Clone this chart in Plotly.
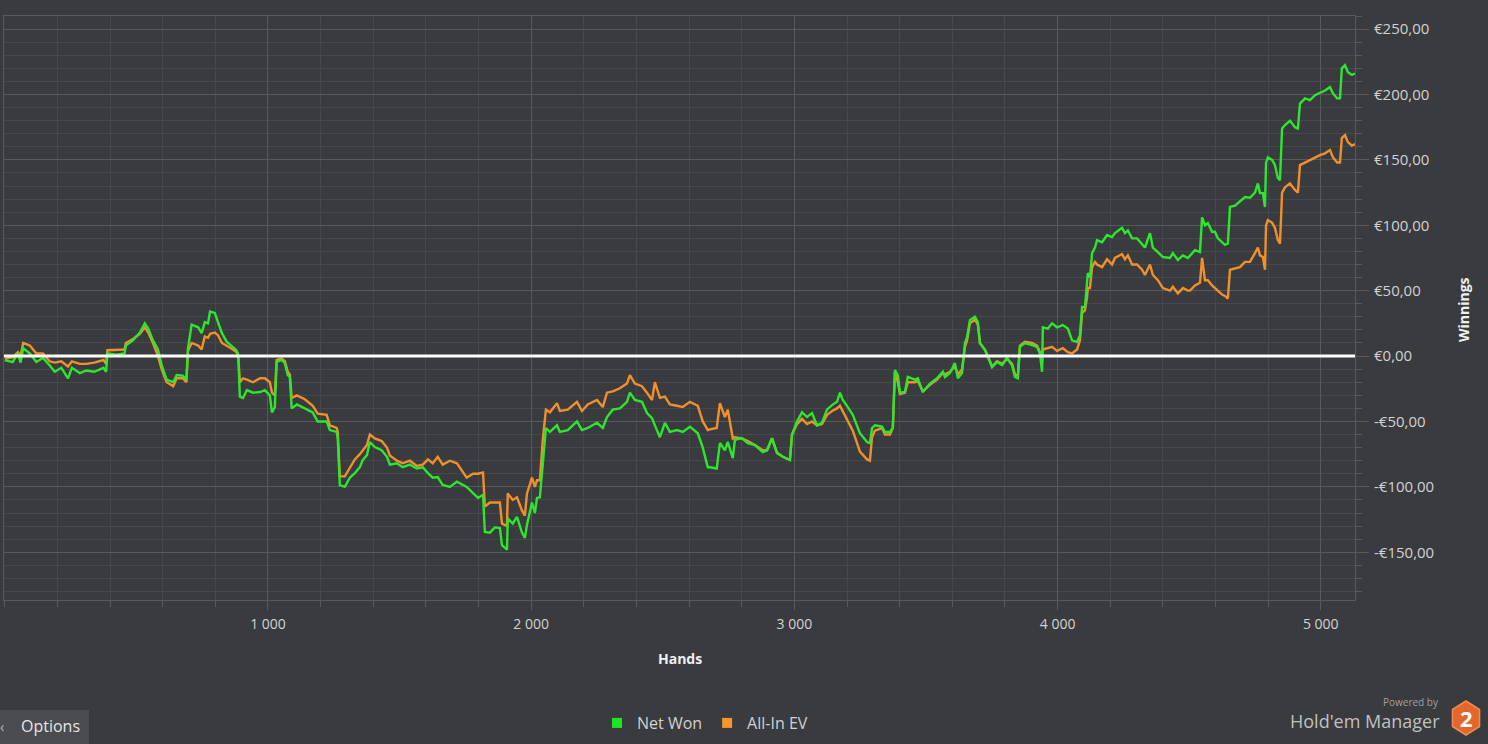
import math
import plotly.graph_objects as go

# ---------------- data ----------------
hands = [0, 30, 50, 60, 70, 95, 120, 145, 170, 190, 215, 240, 255, 285, 310, 340, 375, 385, 390, 425,
         455, 460, 487, 513, 532, 545, 563, 582, 596, 615, 640, 653, 676, 690, 696, 710, 735, 748, 760, 772,
         780, 798, 810, 825, 843, 867, 880, 887, 893, 905, 920, 943, 970, 988, 1007, 1015, 1026, 1033, 1052, 1064,
         1075, 1083, 1090, 1110, 1140, 1170, 1189, 1223, 1235, 1261, 1265, 1273, 1292, 1311, 1330, 1349, 1360, 1376, 1387, 1406,
         1432, 1452, 1463, 1490, 1512, 1539, 1566, 1588, 1608, 1626, 1645, 1664, 1691, 1718, 1755, 1779, 1798, 1817, 1824, 1843,
         1862, 1881, 1889, 1908, 1911, 1930, 1946, 1965, 1976, 1984, 2003, 2014, 2022, 2033, 2044, 2056, 2071, 2098, 2109, 2139,
         2174, 2193, 2215, 2250, 2272, 2288, 2310, 2337, 2364, 2375, 2394, 2421, 2440, 2459, 2470, 2489, 2508, 2527, 2554, 2576,
         2603, 2633, 2652, 2671, 2679, 2705, 2717, 2736, 2747, 2766, 2774, 2800, 2823, 2850, 2880, 2896, 2915, 2934, 2956, 2983,
         2991, 3010, 3029, 3048, 3067, 3086, 3105, 3124, 3143, 3162, 3173, 3184, 3203, 3222, 3249, 3276, 3287, 3295, 3306, 3333,
         3344, 3363, 3374, 3382, 3393, 3401, 3420, 3431, 3458, 3469, 3488, 3515, 3542, 3564, 3572, 3591, 3610, 3621, 3637, 3648,
         3656, 3667, 3686, 3697, 3705, 3724, 3735, 3751, 3770, 3789, 3808, 3827, 3838, 3849, 3857, 3876, 3903, 3922, 3933, 3941,
         3944, 3963, 3979, 3998, 4020, 4039, 4055, 4074, 4085, 4093, 4104, 4112, 4115, 4123, 4131, 4142, 4150, 4169, 4188, 4207,
         4218, 4245, 4256, 4267, 4283, 4302, 4321, 4332, 4351, 4362, 4381, 4400, 4427, 4438, 4457, 4476, 4495, 4503, 4522, 4541,
         4549, 4560, 4571, 4587, 4598, 4609, 4625, 4636, 4647, 4655, 4674, 4693, 4712, 4731, 4750, 4761, 4769, 4780, 4788, 4792,
         4799, 4815, 4826, 4837, 4845, 4853, 4864, 4883, 4902, 4913, 4921, 4940, 4959, 4978, 4997, 5016, 5035, 5046, 5062, 5073,
         5080, 5092, 5103, 5118, 5130]

net_won = [-3, -4.6, 2, -5, 6, 2, -4.5, -1.5, -7, -12, -9, -17, -9, -13, -11, -12, -9, -12, 2, 1,
           2, 8, 12, 18, 25, 21, 12, 5, -7, -18, -20, -14.5, -15, -18, 6, 24, 22, 17.5, 26, 25,
           34, 33, 26, 17.5, 11, 7, 4.5, 1, -31, -32, -26, -28, -27.5, -26, -30, -43, -39, -4.5, -3, -5.5,
           -14.5, -16, -40, -37, -40, -43, -50, -50, -56.6, -58, -63, -98.6, -100, -93, -89.5, -85, -79.5, -75.7, -65.7, -69.6,
           -72, -77, -83, -82, -85, -83, -86, -85, -89.5, -93, -92.5, -98.6, -100, -96, -100, -105, -108.5, -106, -134.5, -135,
           -131, -131.5, -144.5, -148, -124, -128, -123, -135, -139, -129, -112, -120, -108.5, -108, -82, -55, -58, -53, -58, -56.6,
           -50, -56.6, -55, -51, -55, -46.6, -41, -40, -35, -28, -33.6, -35, -43.6, -47.4, -53, -62, -51, -58, -56.6, -58,
           -54, -59, -70, -85, -85, -86, -66.5, -72, -65.7, -78, -64, -62.7, -66.5, -68, -73.4, -72, -62.7, -74, -77, -79.5,
           -60, -50, -43, -46.6, -43.6, -53, -51, -41, -37.5, -35, -28, -33.6, -39, -45, -59, -65.7, -66.5, -55, -53, -54,
           -58, -58, -55, -10.7, -14.5, -28, -27.5, -16, -18, -17, -27.5, -21, -17, -12, -16, -13, -5.4, -17, -13, 10,
           14.5, 27.5, 30, 26, 10, 4.6, -0.7, -8.4, -4.6, -7, -1.5, -7, -16, -17, 7, 10, 8.4, 7, 2, -12,
           22, 21, 25, 22, 23.7, 21, 12, 10.7, 16, 37.5, 37.5, 58, 63.5, 60, 78.7, 83, 88.7, 87, 92.5, 91,
           94, 98, 94, 96, 90, 90, 86, 83, 94, 83, 79.5, 75.7, 75, 78.7, 73.4, 77, 75, 77, 81, 79.5,
           106, 100, 101.7, 95, 95, 90, 87, 85, 86, 114, 115, 118, 121.6, 121, 125, 132, 124.6, 124.6, 114, 148,
           152, 150, 146, 136, 134.5, 174, 176.6, 180, 175, 174, 193, 197, 195.7, 199.5, 201, 203, 205.6, 201, 197, 197,
           220, 222.5, 217, 215, 216]

all_in_ev = [-2, -1, 3, 0, 10, 8, 2, 2, -4, -5, -4, -8, -4, -6, -6, -5, -3, -6, 4.5, 5,
             5, 10, 13, 17, 22, 18, 10, 0, -10, -20, -23, -17, -17, -20, 4, 10, 8, 5, 15, 14,
             17, 18, 16, 10, 8, 5, 3, 0, -20, -17, -18, -20, -17, -17, -20, -28, -30, -3, -2, -4,
             -12, -14, -32, -30, -33, -38, -44, -45, -53, -55, -58, -92, -92, -85, -79, -75, -72, -68, -60, -63,
             -65, -70, -76, -80, -82, -80, -84, -83, -79, -82, -77, -83, -80, -82, -93, -90, -90, -89, -115, -112,
             -112, -112, -128, -130, -105, -110, -108, -118, -122, -105, -93, -100, -95, -95, -64, -41, -43, -36, -42, -41,
             -35, -42, -37, -33.6, -39, -28, -27, -24.6, -21, -14.5, -21, -23, -28, -33.6, -20, -32, -31, -37, -38, -39,
             -35, -38, -50, -56.6, -56, -55, -36, -46.6, -41, -63, -62, -63, -65, -68, -72, -72, -63, -74, -77, -79.5,
             -60, -52, -48, -52, -50, -53, -52, -45, -42, -40, -38, -42, -50, -57, -73, -79, -80, -62, -57, -55,
             -60, -60, -55, -12, -20, -29, -28, -20, -20, -19, -27, -22, -18, -13, -14, -12, -8, -14, -10, 7,
             12, 25, 28, 24, 10, 5, 0, -8, -4, -6, -2, -6, -14, -15, 8, 11, 10, 8, 3, -5,
             5, 6, 7, 4, 6, 3, 2, 5, 12, 33, 35, 45, 52, 52, 68, 72, 70, 68, 74, 70,
             75, 78, 74, 77, 70, 70, 66, 62, 70, 62, 58, 52, 50, 53, 48, 52, 50, 50, 54, 56,
             75, 58, 58, 54, 52, 50, 47, 46, 44, 66, 67, 68, 72, 72, 78.7, 83, 77, 75.7, 66, 100,
             104, 102, 98, 88.7, 86, 125, 129, 132, 127, 125, 146, 148, 150, 152, 153.6, 155, 157.5, 152, 148, 148,
             166.7, 169, 163.6, 161, 162]

x_ticks = [1000, 2000, 3000, 4000, 5000]
y_ticks = [-150, -100, -50, 0, 50, 100, 150, 200, 250]

series_names = ["Net Won", "All-In EV"]


def euro(v):
    s = "€{:,.2f}".format(abs(v)).replace(",", " ").replace(".", ",")
    return ("-" if v < 0 else "") + s


def thousands(v):
    return "{:,}".format(v).replace(",", " ")


# ---------------- styling ----------------
BG = "#393b3f"
GRID_MAJOR = "#58595d"
GRID_MINOR = "#46484c"
TXT = "#d2d2d2"
GREEN = "#2ee62e"
ORANGE = "#f0902c"
FONT = "Open Sans"

# plot area in pixels: left 4, right 1355, top 16, bottom 600
PL, PR, PT, PB = 4, 1355, 16, 600


def px(x):
    return (x - PL) / (PR - PL)


def py(y):
    return (PB - y) / (PB - PT)


fig = go.Figure()
fig.add_trace(go.Scatter(x=hands, y=all_in_ev, mode="lines", name=series_names[1],
                         line=dict(color=ORANGE, width=2.4), showlegend=False, hoverinfo="x+y"))
fig.add_trace(go.Scatter(x=hands, y=net_won, mode="lines", name=series_names[0],
                         line=dict(color=GREEN, width=2.4), showlegend=False, hoverinfo="x+y"))
# legend entries (square markers like the reference)
fig.add_trace(go.Scatter(x=[None], y=[None], mode="markers", name=series_names[0],
                         marker=dict(symbol="square", size=10, color="#1ee61e")))
fig.add_trace(go.Scatter(x=[None], y=[None], mode="markers", name=series_names[1],
                         marker=dict(symbol="square", size=10, color="#f5962d")))

fig.update_layout(
    width=1488, height=744, autosize=False,
    paper_bgcolor=BG, plot_bgcolor=BG,
    margin=dict(l=PL, r=1488 - PR, t=PT, b=744 - PB, pad=0),
    font=dict(family=FONT, color=TXT, size=14),
    showlegend=True,
    legend=dict(orientation="h", x=px(705), xanchor="center", y=py(723), yanchor="middle",
                font=dict(size=16, color=TXT), bgcolor="rgba(0,0,0,0)",
                itemwidth=30, tracegroupgap=0),
    xaxis=dict(
        range=[-3, 5130], tickmode="array", tickvals=x_ticks,
        ticktext=[thousands(v) for v in x_ticks],
        showgrid=True, gridcolor=GRID_MAJOR, gridwidth=1,
        ticks="outside", ticklen=9, tickcolor=GRID_MAJOR, tickwidth=1,
        minor=dict(tick0=0, dtick=200, showgrid=True, gridcolor=GRID_MINOR, gridwidth=1,
                   ticks="outside", ticklen=6, tickcolor=GRID_MAJOR),
        showline=True, linecolor=GRID_MAJOR, linewidth=1, mirror=True,
        zeroline=False, tickfont=dict(size=14, color=TXT), ticklabelstandoff=2,
    ),
    yaxis=dict(
        range=[-186.5, 260], side="right", tickmode="array", tickvals=y_ticks,
        ticktext=[euro(v) for v in y_ticks],
        showgrid=True, gridcolor=GRID_MAJOR, gridwidth=1,
        ticks="outside", ticklen=13, tickcolor=GRID_MAJOR, tickwidth=1,
        minor=dict(tick0=0, dtick=10, showgrid=True, gridcolor=GRID_MINOR, gridwidth=1,
                   ticks="outside", ticklen=6, tickcolor=GRID_MAJOR),
        showline=True, linecolor=GRID_MAJOR, linewidth=1, mirror=True,
        zeroline=False, tickfont=dict(size=15, color=TXT), ticklabelstandoff=2,
    ),
)

# zero line (white, on top of the series)
fig.add_shape(type="line", xref="paper", yref="y", x0=0, x1=1, y0=0, y1=0,
              line=dict(color="#ffffff", width=3), layer="above")

ann = []
ann.append(dict(text="<b>Hands</b>", x=px(680), y=py(658), xref="paper", yref="paper",
                showarrow=False, font=dict(size=14, color="#f0f0f0", family=FONT),
                xanchor="center", yanchor="middle"))
ann.append(dict(text="<b>Winnings</b>", x=px(1463), y=py(310), xref="paper", yref="paper",
                showarrow=False, textangle=-90, font=dict(size=14, color="#f0f0f0", family=FONT),
                xanchor="center", yanchor="middle"))
# Options button
fig.add_shape(type="rect", xref="paper", yref="paper", x0=px(-2), x1=px(89), y0=py(746), y1=py(710),
              fillcolor="#4a4c50", line=dict(width=0), layer="above")
ann.append(dict(text="Options", x=px(50), y=py(726), xref="paper", yref="paper", showarrow=False,
                font=dict(size=16, color="#e6e6e6", family=FONT), xanchor="center", yanchor="middle"))
ann.append(dict(text="‹", x=px(2), y=py(726), xref="paper", yref="paper", showarrow=False,
                font=dict(size=14, color="#bbbbbb", family=FONT), xanchor="center", yanchor="middle"))
# Powered by Hold'em Manager 2
ann.append(dict(text="Powered by", x=px(1441), y=py(702), xref="paper", yref="paper", showarrow=False,
                font=dict(size=10, color="#a0a0a0", family=FONT), xanchor="right", yanchor="middle"))
ann.append(dict(text="Hold'em Manager", x=px(1442), y=py(721), xref="paper", yref="paper", showarrow=False,
                font=dict(size=18, color="#c0c0c0", family=FONT), xanchor="right", yanchor="middle"))
cx, cy, r = 1466, 718, 17
pts = []
for k in range(6):
    a = math.radians(90 + 60 * k)
    pts.append((px(cx + r * 0.92 * math.cos(a)), py(cy - r * math.sin(a))))
path = "M " + " L ".join("{:.5f},{:.5f}".format(a, b) for a, b in pts) + " Z"
fig.add_shape(type="path", xref="paper", yref="paper", path=path,
              fillcolor="#e2672a", line=dict(color="#f08a50", width=1.5), layer="above")
ann.append(dict(text="<b>2</b>", x=px(cx), y=py(cy), xref="paper", yref="paper", showarrow=False,
                font=dict(size=22, color="#ffffff", family=FONT), xanchor="center", yanchor="middle"))
fig.update_layout(annotations=ann)

fig.write_html("out.html", config={"displayModeBar": False},
               post_script="document.body.style.margin='0';")
